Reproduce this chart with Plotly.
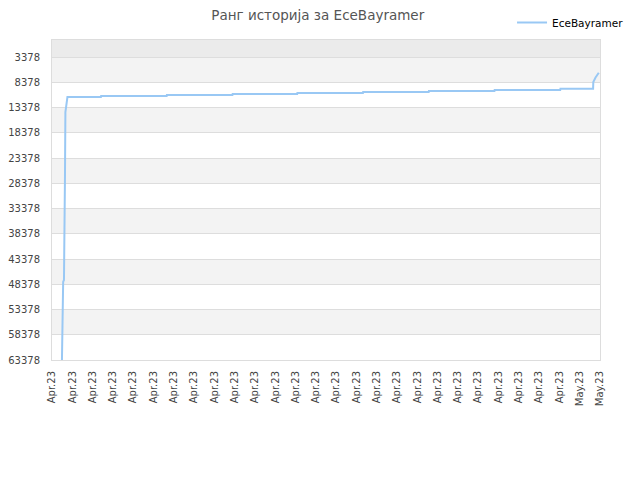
import plotly.graph_objects as go

# Rank history data, x in tick-index units (one tick per label)
tick_labels = ["Apr.23"] * 26 + ["May.23"] * 2
rank_ticks = [3378, 8378, 13378, 18378, 23378, 28378, 33378,
              38378, 43378, 48378, 53378, 58378, 63378]

x_pos = [0.49, 0.51, 0.54, 0.55, 0.59, 0.60, 0.64, 0.66, 0.71, 0.76,
         2.41, 2.42, 5.65, 5.66, 8.89, 8.90, 12.08, 12.09, 15.32, 15.33,
         18.56, 18.57, 21.80, 21.81, 25.04, 25.05, 26.66, 26.67, 26.78, 26.94]
rank = [63378, 57900, 57900, 47930, 47530, 37240, 26750, 14270, 12880, 11300,
        11300, 11100, 11100, 10880, 10880, 10680, 10680, 10480, 10480, 10280,
        10280, 10080, 10080, 9880, 9880, 9680, 9680, 8330, 7420, 6490]

y_top = 1
y_bottom = 63378

fig = go.Figure(
    go.Scatter(
        x=x_pos,
        y=rank,
        mode="lines",
        name="EceBayramer",
        line=dict(color="#99c8f4", width=2),
    )
)

# alternating horizontal bands between grid lines
bounds = [y_top] + rank_ticks
shapes = []
for i in range(len(bounds) - 1):
    if i == 0:
        color = "#ebebeb"
    elif i % 2 == 1:
        color = "#f3f3f3"
    else:
        continue
    shapes.append(dict(type="rect", xref="x domain", yref="y", x0=0, x1=1,
                       y0=bounds[i], y1=bounds[i + 1], fillcolor=color,
                       line=dict(width=0), layer="below"))

# page body adds an 8px offset, so margins are shifted to compensate
fig.update_layout(
    width=640,
    height=480,
    font=dict(family="DejaVu Sans", size=10, color="#444"),
    title=dict(text="Ранг историја за EceBayramer", x=0.484, xanchor="center",
               y=0.984, yanchor="middle", font=dict(size=13.5, color="#555")),
    paper_bgcolor="white",
    plot_bgcolor="white",
    shapes=shapes,
    showlegend=True,
    legend=dict(x=1.053, xanchor="right", y=1, yanchor="top", itemwidth=30,
                font=dict(size=10.5, color="#000")),
    margin=dict(t=0, b=128, l=42, r=48),
    xaxis=dict(
        range=[0, 27],
        tickvals=list(range(len(tick_labels))),
        ticktext=tick_labels,
        tickangle=-90,
        ticklabelstandoff=6,
        showgrid=False,
        zeroline=False,
        showline=True,
        linecolor="#ddd",
        mirror=True,
        ticks="",
    ),
    yaxis=dict(
        domain=[0, 320 / 352],
        range=[y_bottom, y_top],
        tickvals=rank_ticks,
        ticktext=[str(v) for v in rank_ticks],
        ticklabelstandoff=9,
        showgrid=True,
        gridcolor="#dddddd",
        zeroline=False,
        showline=True,
        linecolor="#ddd",
        mirror=True,
        ticks="",
    ),
)

fig.write_html("out.html")
